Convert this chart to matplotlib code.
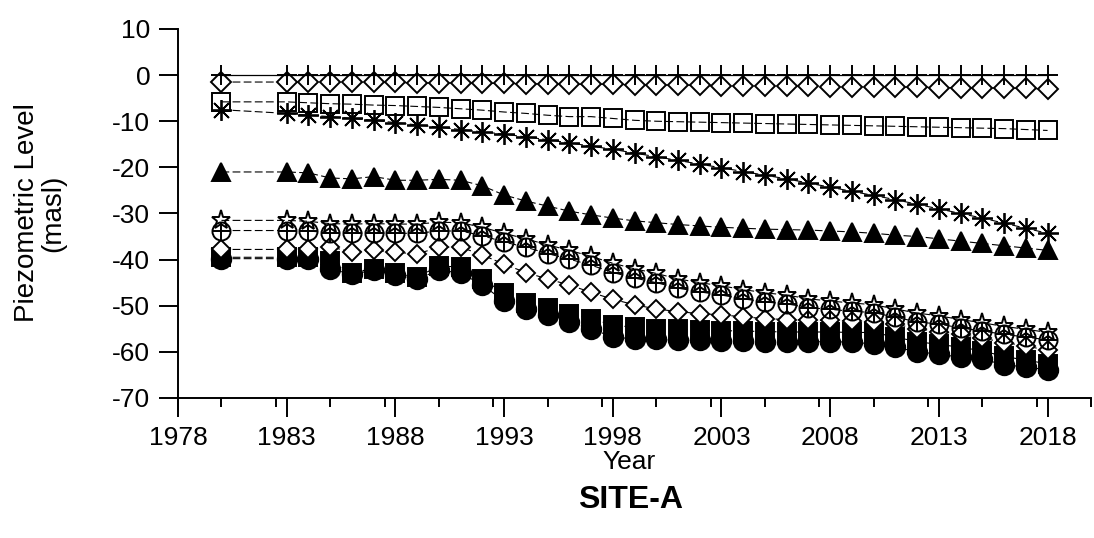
"""
Piezometric level time series for SITE-A, 1980-2018.
"""
import matplotlib
matplotlib.use("Agg")
import matplotlib.pyplot as plt
from matplotlib.ticker import MultipleLocator

plt.rcParams["font.family"] = ["Liberation Sans", "DejaVu Sans"]
plt.rcParams["axes.unicode_minus"] = False

# ---------------------------------------------------------------
# data (masl)
# ---------------------------------------------------------------
years = [1980, 1983, 1984, 1985, 1986, 1987, 1988, 1989, 1990, 1991,
         1992, 1993, 1994, 1995, 1996, 1997, 1998, 1999, 2000, 2001,
         2002, 2003, 2004, 2005, 2006, 2007, 2008, 2009, 2010, 2011,
         2012, 2013, 2014, 2015, 2016, 2017, 2018]

well_plus = [0.0, 0.0, 0.0, 0.0, 0.0, 0.0, 0.0, 0.0, 0.0, 0.0,
             0.0, 0.0, 0.0, 0.0, 0.0, 0.0, 0.0, 0.0, 0.0, 0.0,
             0.0, 0.0, 0.0, 0.0, 0.0, 0.0, 0.0, 0.0, 0.0, 0.0,
             0.0, 0.0, 0.0, 0.0, 0.0, 0.0, 0.0]

well_diamond_a = [-1.5, -1.5, -1.5, -1.6, -1.6, -1.6, -1.6, -1.7, -1.7, -1.7,
                  -1.8, -1.8, -1.9, -1.9, -2.0, -2.0, -2.0, -2.1, -2.1, -2.2,
                  -2.2, -2.3, -2.3, -2.3, -2.4, -2.4, -2.5, -2.5, -2.5, -2.6,
                  -2.6, -2.7, -2.7, -2.8, -2.8, -2.9, -3.0]

well_square_open = [-5.8, -5.8, -6.0, -6.2, -6.3, -6.5, -6.6, -6.8, -7.0, -7.3,
                    -7.6, -8.0, -8.3, -8.7, -9.0, -9.0, -9.4, -9.8, -10.0, -10.1,
                    -10.2, -10.3, -10.4, -10.5, -10.6, -10.7, -10.8, -10.9, -11.0, -11.1,
                    -11.2, -11.3, -11.4, -11.5, -11.6, -11.8, -12.0]

well_asterisk = [-7.5, -8.3, -8.7, -9.0, -9.4, -9.8, -10.3, -10.8, -11.3, -11.8,
                 -12.3, -12.8, -13.4, -14.0, -14.7, -15.4, -16.1, -16.9, -17.7, -18.5,
                 -19.3, -20.1, -20.9, -21.7, -22.5, -23.4, -24.3, -25.2, -26.1, -27.0,
                 -28.0, -29.0, -30.0, -31.0, -32.1, -33.2, -34.3]

well_triangle = [-21.0, -21.0, -21.2, -22.3, -22.5, -22.0, -22.8, -22.8, -22.6, -22.8,
                 -24.0, -26.0, -27.3, -28.4, -29.5, -30.3, -31.0, -31.6, -32.0, -32.4,
                 -32.7, -33.0, -33.2, -33.4, -33.5, -33.6, -33.8, -34.0, -34.3, -34.7,
                 -35.0, -35.5, -36.0, -36.5, -37.0, -37.5, -38.0]

well_star = [-31.5, -31.5, -31.7, -32.2, -32.3, -32.2, -32.3, -32.3, -31.9, -32.0,
             -33.0, -34.3, -35.5, -36.8, -38.0, -39.3, -40.8, -42.0, -43.0, -44.2,
             -45.0, -45.7, -46.5, -47.2, -47.7, -48.5, -49.0, -49.4, -49.8, -50.7,
             -51.6, -52.2, -53.0, -53.7, -54.5, -55.1, -55.8]

well_circle_cross = [-33.7, -33.7, -33.8, -34.2, -34.3, -34.2, -34.3, -34.3, -33.8, -33.8,
                     -34.8, -36.2, -37.3, -38.7, -39.9, -41.2, -42.8, -44.0, -45.0, -46.2,
                     -47.0, -47.7, -48.5, -49.2, -49.6, -50.4, -50.8, -51.2, -51.5, -52.5,
                     -53.5, -54.0, -54.8, -55.5, -56.2, -56.8, -57.4]

well_diamond_b = [-37.8, -37.8, -37.8, -37.2, -38.4, -38.0, -38.4, -38.8, -37.3, -37.3,
                  -39.0, -41.0, -42.8, -44.2, -45.5, -47.1, -48.6, -49.8, -50.7, -51.3,
                  -51.7, -52.0, -52.4, -52.8, -53.0, -53.1, -53.2, -53.3, -53.5, -54.0,
                  -55.0, -55.6, -56.2, -57.0, -58.0, -58.7, -59.7]

well_square_fill = [-39.5, -39.5, -39.5, -40.3, -42.8, -42.0, -43.0, -43.8, -41.4, -41.6,
                    -44.2, -47.3, -49.4, -50.6, -51.7, -52.8, -54.2, -54.7, -55.0, -55.1,
                    -55.3, -55.4, -55.5, -55.6, -55.7, -55.7, -55.7, -55.8, -55.8, -56.8,
                    -57.8, -58.4, -59.0, -59.8, -61.0, -61.8, -62.6]

well_circle_fill = [-39.8, -39.8, -39.8, -42.0, -43.2, -42.3, -43.3, -44.2, -42.3, -42.9,
                    -45.5, -49.0, -50.8, -52.0, -53.6, -55.0, -56.8, -57.2, -57.3, -57.5,
                    -57.5, -57.6, -57.6, -57.8, -57.8, -57.8, -57.8, -57.9, -58.3, -59.0,
                    -60.0, -60.5, -61.2, -61.6, -62.8, -63.3, -63.9]

# ---------------------------------------------------------------
# figure
# ---------------------------------------------------------------
fig = plt.figure(figsize=(10.94, 5.38), dpi=100)
ax = fig.add_axes([0.1627, 0.2389, 0.8346, 0.7072])

LINE = dict(color="black", lw=0.8, ls=(0, (7, 3)))
EDGE = 1.4

def series(y, marker, ms, face="white", z=3, mew=EDGE):
    ax.plot(years, y, marker=marker, ms=ms, mfc=face, mec="black",
            mew=mew, zorder=z, **LINE)

# bottom group first so the open markers sit on top of the filled ones
series(well_circle_fill, "o", 14, face="black", z=3)
series(well_square_fill, "s", 13.5, face="black", z=4)
series(well_diamond_b, "D", 9.5, z=5)
series(well_star, "*", 14, face="none", z=6)
series(well_circle_cross, "o", 13, face="none", z=7)
ax.plot(years, well_circle_cross, ls="none", marker="+", ms=13,
        mec="black", mew=EDGE, zorder=7)
series(well_triangle, "^", 13, face="black", z=3)
series(well_square_open, "s", 13.5, face="none", z=3)
series(well_asterisk, (8, 2, 0), 15, z=4, mew=1.3)
series(well_diamond_a, "D", 10, z=3)
ax.plot(years, well_plus, ls="-", lw=0.9, color="black", marker="+",
        ms=14, mew=EDGE, zorder=4)

# axes
ax.set_xlim(1978, 2020)
ax.set_ylim(-72.5, 10)
ax.spines["top"].set_visible(False)
ax.spines["right"].set_visible(False)
ax.spines["bottom"].set_position(("data", -70))
ax.spines["left"].set_linewidth(1.4)
ax.spines["bottom"].set_linewidth(1.4)

ax.xaxis.set_major_locator(MultipleLocator(5))
ax.xaxis.set_minor_locator(MultipleLocator(2.5))
ax.set_xticks(range(1978, 2019, 5))
ax.set_yticks(range(-70, 11, 10))
ax.tick_params(axis="both", which="major", direction="out", width=1.4,
               labelsize=19, pad=6, length=14)
ax.tick_params(axis="x", which="minor", length=6.5, width=1.4)

fig.text(0.037, 0.604, "Piezometric Level\n(masl)", rotation=90,
         ha="center", va="center", fontsize=20, multialignment="center",
         linespacing=1.0)
fig.text(0.575, 1 - 462 / 538, "Year", ha="center", va="center", fontsize=19)
fig.text(0.576, 1 - 500 / 538, "SITE-A", ha="center", va="center",
         fontsize=23, fontweight="bold")

fig.savefig("out.png", dpi=100, facecolor="white")
